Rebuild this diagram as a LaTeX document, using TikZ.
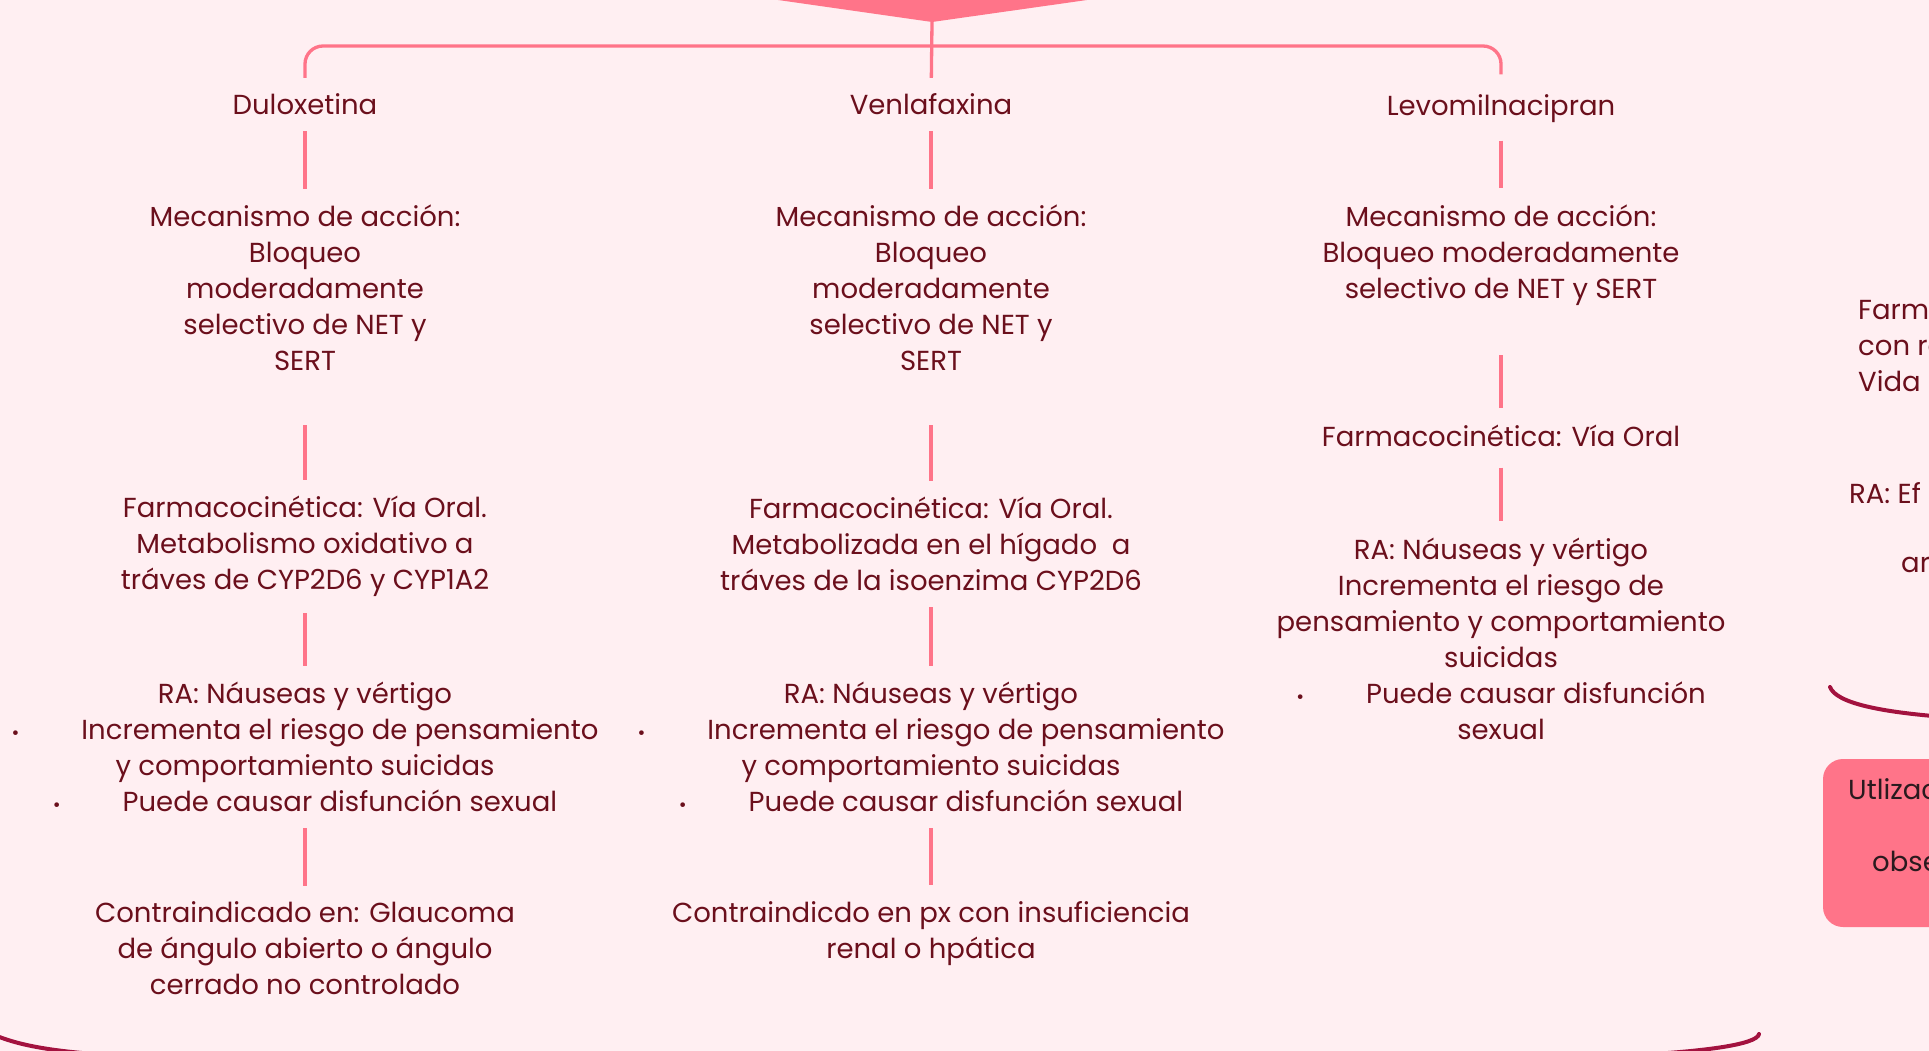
\documentclass[tikz,border=0pt]{standalone}
\usepackage{fontspec}
\setmainfont{Poppins}
\definecolor{bgpink}{HTML}{FFEFF2}
\definecolor{linkpink}{HTML}{FF7489}
\definecolor{txtred}{HTML}{6B0F1C}
\definecolor{curvered}{HTML}{A3123F}
\definecolor{boxtxt}{HTML}{2A1A1E}
\newcommand{\blt}{{\fontsize{19}{19}\selectfont •}}

\begin{document}
\begin{tikzpicture}[x=1pt,y=-1pt,
	txt/.style={text=txtred, align=center, inner sep=0pt, font=\fontsize{27.5}{36}\selectfont},
	link/.style={draw=linkpink, line width=3.3pt, shorten <=16pt, shorten >=16pt},
	curve/.style={draw=curvered, line width=4pt, line cap=round}]

	\fill[bgpink] (0,0) rectangle (1929,1051);
	\clip (0,0) rectangle (1929,1051);

	% top pointer
	\fill[linkpink] (778,-5) -- (778,0) -- (932,22) -- (1087,0) -- (1087,-5) -- cycle;
	\coordinate (hub) at (932,22);
	\coordinate (bar) at (932,46);

	% Duloxetina
	\node[txt] (dul) at (305,104.6) {Duloxetina};
	\node[txt] (dulmec) at (305,288) {Mecanismo de acción:\\ Bloqueo\\ moderadamente\\ selectivo de NET y\\ SERT};
	\node[txt] (dulfar) at (305,546.5) {Farmacocinética: Vía Oral.\\ Metabolismo oxidativo a\\ tráves de CYP2D6 y CYP1A2};
	\node[txt] (dulra) at (305,747) {RA: Náuseas y vértigo\\ \blt\hspace{62pt}Incrementa el riesgo de pensamiento\\ y comportamiento suicidas\\ \blt\hspace{62pt}Puede causar disfunción sexual};
	\node[txt] (dulcon) at (305,948.5) {Contraindicado en: Glaucoma\\ de ángulo abierto o ángulo\\ cerrado no controlado};

	% Venlafaxina
	\node[txt] (ven) at (931,104.6) {Venlafaxina};
	\node[txt] (venmec) at (931,288) {Mecanismo de acción:\\ Bloqueo\\ moderadamente\\ selectivo de NET y\\ SERT};
	\node[txt] (venfar) at (931,544) {Farmacocinética: Vía Oral.\\ Metabolizada en el hígado\ \ a\\ tráves de la isoenzima CYP2D6};
	\node[txt] (venra) at (931,747) {RA: Náuseas y vértigo\\ \blt\hspace{62pt}Incrementa el riesgo de pensamiento\\ y comportamiento suicidas\\ \blt\hspace{62pt}Puede causar disfunción sexual};
	\node[txt] (vencon) at (931,933.2) {Contraindicdo en px con insuficiencia\\ renal o hpática};

	% Levomilnacipran
	\node[txt] (levo) at (1501,108.5) {Levomilnacipran};
	\node[txt] (levomec) at (1501,254.7) {Mecanismo de acción:\\ Bloqueo moderadamente\\ selectivo de NET y SERT};
	\node[txt] (levofar) at (1501,435.5) {Farmacocinética: Vía Oral};
	\node[txt] (levora) at (1501,638.5) {RA: Náuseas y vértigo\\ Incrementa el riesgo de\\ pensamiento y comportamiento\\ suicidas\\ \blt\hspace{62pt}Puede causar disfunción\\ sexual};

	% connectors
	\draw[link, shorten <=0pt] (hub) -- (ven);
	\draw[link, rounded corners=18pt, shorten >=20pt] (dul) |- (bar) -| (levo);
	\draw[link] (dul) -- (dulmec);
	\draw[link, shorten <=54pt] (dulmec) -- (dulfar);
	\draw[link] (dulfar) -- (dulra);
	\draw[link] (dulra) -- (dulcon);
	\draw[link] (ven) -- (venmec);
	\draw[link, shorten <=54pt] (venmec) -- (venfar);
	\draw[link] (venfar) -- (venra);
	\draw[link] (venra) -- (vencon);
	\draw[link, shorten <=18pt] (levo) -- (levomec);
	\draw[link, shorten <=50pt] (levomec) -- (levofar);
	\draw[link, shorten <=21pt] (levofar) -- (levora);

	% next branch, cut by the edge
	\node[txt, align=left, anchor=west] (farm4) at (1858,346) {Farm\\ con ra\\ Vida};
	\node[txt, anchor=west] (ra4) at (1849,493) {RA: Ef};
	\node[txt, anchor=west] (ar4) at (1901,565) {ar};
	\draw[curve] (1830,687) .. controls (1836,703) and (1880,712) .. (1945,717);
	\fill[linkpink, rounded corners=20pt] (1823,759) rectangle (1990,927);
	\node[txt, text=boxtxt, anchor=west] (utl) at (1848,789) {Utlizac};
	\node[txt, text=boxtxt, anchor=west] (obs) at (1872,861) {obse};

	% lower brace
	\draw[curve] (-10,1033) .. controls (20,1047) and (60,1052) .. (120,1056) -- (1620,1056) .. controls (1700,1052) and (1757,1045) .. (1759,1034);
\end{tikzpicture}
\end{document}
